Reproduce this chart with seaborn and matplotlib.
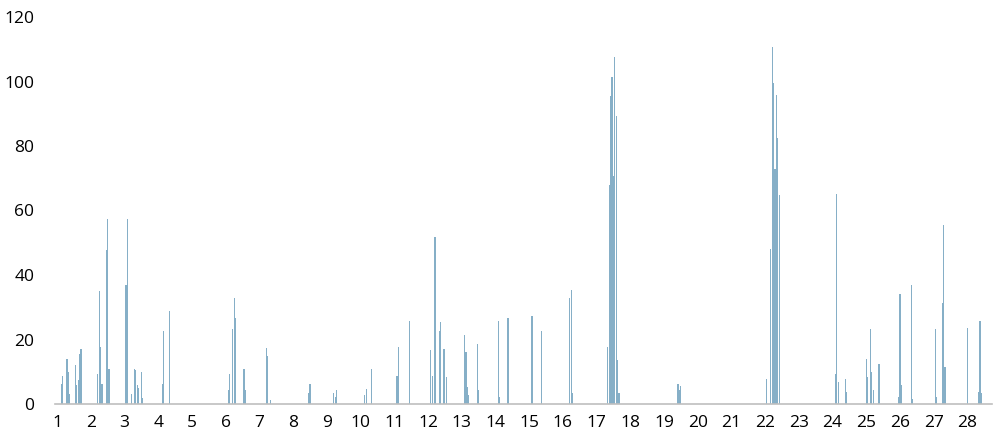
import numpy as np
import pandas as pd
import matplotlib
matplotlib.use("Agg")
import matplotlib.pyplot as plt
import seaborn as sns

# hourly series, 667 slots; only the non-zero hours are listed
n_hours = 667
spike_hours = [4, 5, 8, 9, 10, 14, 15, 16, 17, 18,
               30, 31, 32, 33, 36, 37, 38,
               50, 51, 54, 56, 57, 58, 59, 61, 62,
               76, 77, 81,
               123, 124, 126, 127, 128, 134, 135,
               150, 151, 153,
               180, 181, 198, 199, 200,
               220, 221, 225,
               243, 244, 252,
               267, 268, 270, 273, 274, 276, 277, 278,
               291, 292, 293, 294, 300, 301,
               315, 316, 322,
               339, 346,
               366, 367, 368,
               393, 394, 395, 396, 397, 398, 399, 400, 401,
               443, 444, 445,
               506, 509, 510, 511, 512, 513, 514, 515,
               555, 556, 557, 562, 563,
               577, 578, 580, 581, 582, 586,
               600, 601, 602, 609, 610,
               626, 627, 631, 632, 633,
               649, 657, 658, 659]
spike_values = [6.3, 8.6, 14, 10, 3, 12, 6, 7.4, 15.5, 17,
                9.4, 35, 17.6, 6.3, 47.8, 57.5, 11,
                36.8, 57.5, 3, 11, 10.6, 6, 5, 10, 2,
                6.3, 22.7, 28.9,
                4.3, 9.4, 23.2, 33, 26.8, 11, 4.3,
                17.4, 15, 1.2,
                3.3, 6.1, 3.3, 2.2, 4.3,
                2.8, 4.8, 11,
                8.6, 17.6, 25.6,
                16.6, 8.6, 51.9, 22.7, 25.3, 17.1, 17.1, 8.4,
                21.4, 16, 5.3, 2.8, 18.6, 4.3,
                25.8, 2.2, 26.8,
                27.3, 22.7,
                33, 35.5, 3.3,
                17.6, 67.8, 95.4, 101.3, 70.8, 107.7, 89.3, 13.5, 3.3,
                6.3, 4.3, 5.5,
                7.6, 48.1, 110.7, 99.5, 72.9, 95.9, 82.6, 64.7,
                9.4, 65.2, 6.9, 7.6, 3.8,
                14, 8.4, 23.4, 10, 4.3, 12.5,
                2.2, 34.2, 5.8, 37, 1.7,
                23.4, 2.2, 31.4, 55.5, 11.5,
                23.7, 3.8, 25.6, 3.3]
day_labels = [str(d) for d in range(1, 29)]

values = np.zeros(n_hours)
values[spike_hours] = spike_values
df = pd.DataFrame({"hour": np.arange(n_hours), "value": values})

sns.set_style("white")
plt.rcParams["font.family"] = ["Open Sans", "DejaVu Sans"]

fig = plt.figure(figsize=(10.04, 4.45), dpi=100)
ax = fig.add_axes([55 / 1004, 41 / 445, 937 / 1004, 387 / 445])

sns.barplot(data=df, x="hour", y="value", color="#86AFC7", saturation=1,
            errorbar=None, width=0.85, linewidth=0, ax=ax)

ax.set_xlim(-0.5, n_hours - 0.5)
ax.set_ylim(0, 120)
ax.set_yticks(range(0, 121, 20))
ax.set_xticks([i * 24 + 1 for i in range(len(day_labels))])
ax.set_xticklabels(day_labels)
ax.set_xlabel("")
ax.set_ylabel("")
ax.tick_params(axis="both", length=0, labelsize=12.5, colors="#000000")
ax.tick_params(axis="x", pad=8)
ax.tick_params(axis="y", pad=15)

for s in ["top", "right", "left"]:
    ax.spines[s].set_visible(False)
ax.spines["bottom"].set_color("#BFBFBF")
ax.spines["bottom"].set_linewidth(1.2)

fig.savefig("out.png", dpi=100)
